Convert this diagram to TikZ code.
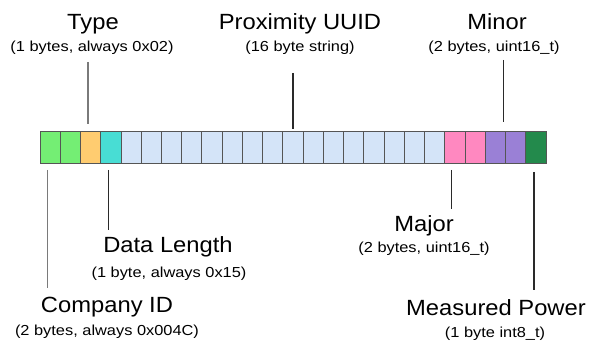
\documentclass[tikz,border=0pt]{standalone}
\usepackage{fontspec}
\setmainfont{Liberation Sans}
\newfontfamily\titlefont{Liberation Sans}[FakeStretch=1.08]
\newfontfamily\subfont{Liberation Sans}[FakeStretch=1.13]
\definecolor{cgreen}{HTML}{74EE74}
\definecolor{corange}{HTML}{FFCC70}
\definecolor{cteal}{HTML}{48DDD4}
\definecolor{cblue}{HTML}{D4E4F8}
\definecolor{cpink}{HTML}{FF88C0}
\definecolor{cpurple}{HTML}{9A80D6}
\definecolor{cdgreen}{HTML}{238A4C}
\definecolor{cborder}{HTML}{555555}
\definecolor{lgray}{HTML}{7A7A7A}
\definecolor{dgray}{HTML}{2A2A2A}
\begin{document}
\begin{tikzpicture}[x=1pt,y=-1pt,
  cell/.style={draw=cborder,line width=0.9pt,minimum width=20.24pt,minimum height=32pt,inner sep=0pt,outer sep=0pt},
  title/.style={font=\titlefont\fontsize{22}{26}\selectfont,anchor=base,inner sep=0pt},
  sub/.style={font=\subfont\fontsize{14.5}{17}\selectfont,anchor=base,inner sep=0pt},
  conn/.style={line width=1.3pt,dgray},
  connl/.style={line width=1.3pt,lgray}]
\useasboundingbox (0,0) rectangle (595,342);
\foreach \i/\c in {0/cgreen,1/cgreen,2/corange,3/cteal,
  4/cblue,5/cblue,6/cblue,7/cblue,8/cblue,9/cblue,10/cblue,11/cblue,
  12/cblue,13/cblue,14/cblue,15/cblue,16/cblue,17/cblue,18/cblue,19/cblue,
  20/cpink,21/cpink,22/cpurple,23/cpurple,24/cdgreen}
  \node[cell,fill=\c] (c\i) at ({40+\i*20.24+10.12},147) {};
% top labels
\node[title] (typeT) at (93,30) {Type};
\node[sub] (typeS) at (92,52) {(1 bytes, always 0x02)};
\node[title] (uuidT) at (300,30) {Proximity UUID};
\node[sub] (uuidS) at (300,52) {(16 byte string)};
\node[title] (minorT) at (497,30) {Minor};
\node[sub] (minorS) at (494,52) {(2 bytes, uint16\_t)};
% bottom labels
\node[title] (lenT) at (168,252) {Data Length};
\node[sub] (lenS) at (169,277) {(1 byte, always 0x15)};
\node[title] (compT) at (107,312.5) {Company ID};
\node[sub] (compS) at (107,335) {(2 bytes, always 0x004C)};
\node[title] (majT) at (424,232) {Major};
\node[sub] (majS) at (424,252) {(2 bytes, uint16\_t)};
\node[title] (powT) at (496,315) {Measured Power};
\node[sub] (powS) at (495,337) {(1 byte int8\_t)};
% connector ends
\coordinate (typeA) at (88,62);   \coordinate (typeB) at (88,124);
\coordinate (uuidA) at (293,73);  \coordinate (uuidB) at (293,129);
\coordinate (minorA) at (503.5,60); \coordinate (minorB) at (503.5,122);
\coordinate (compA) at (47.3,170); \coordinate (compB) at (47.3,288);
\coordinate (lenA) at (108.3,170); \coordinate (lenB) at (108.3,230);
\coordinate (majA) at (451.7,170); \coordinate (majB) at (451.7,209);
\coordinate (powA) at (534,172); \coordinate (powB) at (534,290);
\draw[connl] (typeA) -- (typeB);
\draw[conn] (uuidA) -- (uuidB);
\draw[conn] (minorA) -- (minorB);
\draw[connl] (compA) -- (compB);
\draw[conn] (lenA) -- (lenB);
\draw[conn] (majA) -- (majB);
\draw[conn] (powA) -- (powB);
\end{tikzpicture}
\end{document}
